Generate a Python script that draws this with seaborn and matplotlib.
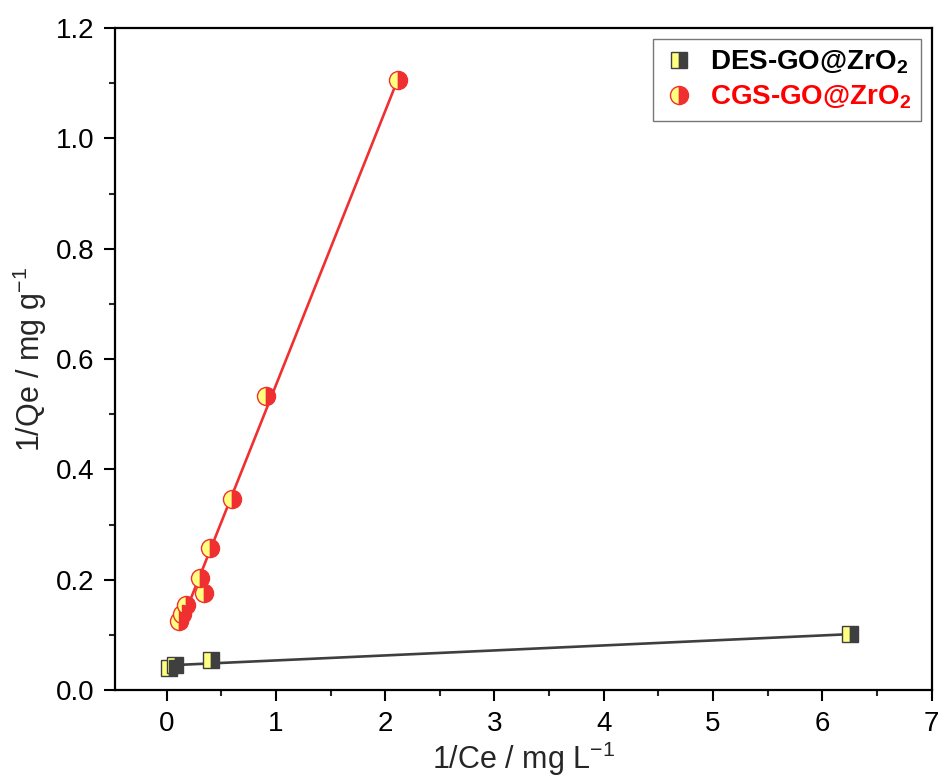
import numpy as np
import matplotlib
matplotlib.use("Agg")
import matplotlib.pyplot as plt
import seaborn as sns
from matplotlib.ticker import MultipleLocator

sns.set_theme(style="white")
plt.rcParams["font.family"] = ["Liberation Sans", "DejaVu Sans"]
plt.rcParams["mathtext.fontset"] = "custom"
plt.rcParams["mathtext.rm"] = "Liberation Sans"
plt.rcParams["mathtext.it"] = "Liberation Sans:italic"
plt.rcParams["mathtext.bf"] = "Liberation Sans:bold"

# Langmuir linearised data: 1/Ce vs 1/Qe
des_x = [0.02, 0.08, 0.41, 6.25]
des_y = [0.040, 0.045, 0.054, 0.101]

cgs_x = [0.11, 0.14, 0.18, 0.34, 0.31, 0.40, 0.60, 0.91, 2.12]
cgs_y = [0.125, 0.138, 0.154, 0.176, 0.203, 0.257, 0.346, 0.533, 1.106]

labels = ["DES-GO@ZrO$_\\mathbf{2}$", "CGS-GO@ZrO$_\\mathbf{2}$"]
x_ticks = [0, 1, 2, 3, 4, 5, 6, 7]
y_ticks = [0.0, 0.2, 0.4, 0.6, 0.8, 1.0, 1.2]

dark = "#3f3f3f"
red = "#f03030"
yellow = "#ffff80"

fig, ax = plt.subplots(figsize=(9.44, 7.78), dpi=100)
fig.subplots_adjust(left=0.122, right=0.987, top=0.964, bottom=0.113)

# linear fits
sns.regplot(x=des_x, y=des_y, ci=None, scatter=False, ax=ax,
            line_kws=dict(color=dark, lw=1.9, zorder=2))
sns.regplot(x=cgs_x, y=cgs_y, ci=None, scatter=False, ax=ax,
            line_kws=dict(color=red, lw=1.9, zorder=2))

# half-filled markers
ax.plot(des_x, des_y, ls="none", marker="s", ms=11, fillstyle="left",
        markerfacecolor=yellow, markerfacecoloralt=dark,
        markeredgecolor=dark, markeredgewidth=1.0, zorder=3, label=labels[0])
ax.plot(cgs_x, cgs_y, ls="none", marker="o", ms=13, fillstyle="left",
        markerfacecolor=yellow, markerfacecoloralt=red,
        markeredgecolor=red, markeredgewidth=1.0, zorder=3, label=labels[1])

ax.set_xlim(-0.47, 7.0)
ax.set_ylim(0.0, 1.2)
ax.set_xticks(x_ticks)
ax.set_yticks(y_ticks)
ax.set_yticklabels([f"{v:.1f}" for v in y_ticks])
ax.xaxis.set_minor_locator(MultipleLocator(0.5))
ax.yaxis.set_minor_locator(MultipleLocator(0.1))
ax.tick_params(which="major", direction="out", length=8, width=1.5,
               labelsize=20, colors="black", bottom=True, left=True, pad=7)
ax.tick_params(which="minor", direction="out", length=4.5, width=1.5,
               bottom=True, left=True)
for s in ax.spines.values():
    s.set_color("black")
    s.set_linewidth(1.6)

ax.set_xlabel("1/Ce / mg L$^{-1}$", fontsize=22, labelpad=2)
ax.set_ylabel("1/Qe / mg g$^{-1}$", fontsize=22, labelpad=5)

leg = ax.legend(loc="upper right", frameon=True, fancybox=False,
                edgecolor="#555555", handletextpad=0.5, borderpad=0.35,
                labelspacing=0.25, handlelength=1.2, borderaxespad=0.4,
                prop=dict(weight="bold", size=20))
leg.get_frame().set_linewidth(1.0)
for txt, col in zip(leg.get_texts(), ["black", "red"]):
    txt.set_color(col)

fig.savefig("out.png", dpi=100, facecolor="white")
